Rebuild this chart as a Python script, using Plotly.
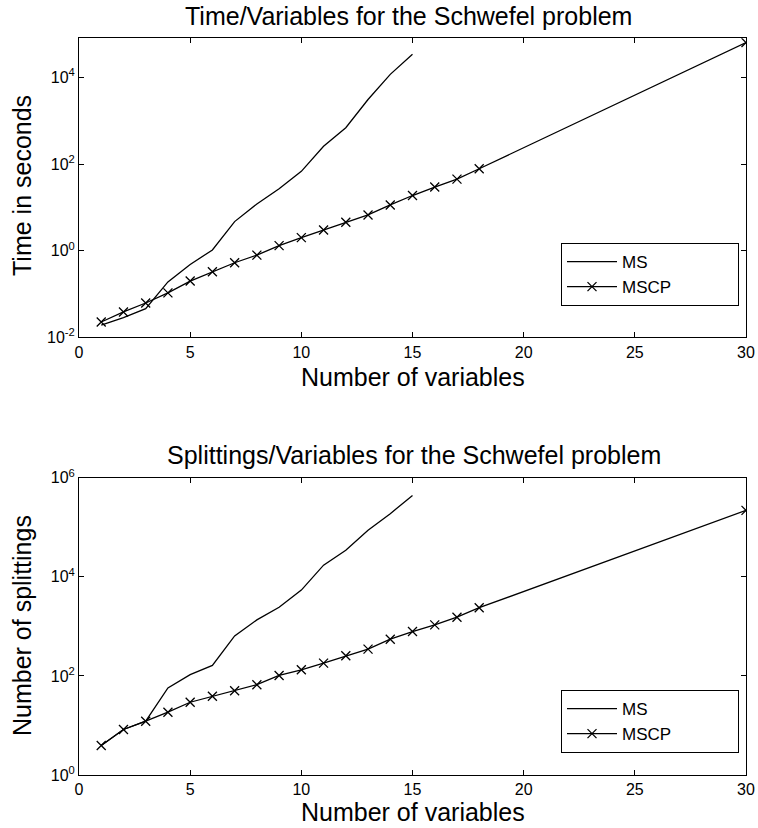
import plotly.graph_objects as go

variables_ms = [1, 2, 3, 4, 5, 6, 7, 8, 9, 10, 11, 12, 13, 14, 15]
variables_mscp = [1, 2, 3, 4, 5, 6, 7, 8, 9, 10, 11, 12, 13, 14, 15, 16, 17, 18, 30]

time_ms = [0.019, 0.0286, 0.046, 0.19, 0.48, 1.04, 4.7, 12, 27, 68, 257, 690, 3100, 11800, 34300]
time_mscp = [0.0226, 0.0385, 0.062, 0.106, 0.199, 0.326, 0.527, 0.79, 1.31, 2.0, 3.0, 4.55,
             6.7, 11.4, 18.8, 29.5, 45, 78, 64000]

split_ms = [3.95, 8.3, 12.2, 57, 106, 163, 643, 1350, 2430, 5400, 17200, 34400, 87000, 188000, 439000]
split_mscp = [3.95, 8.3, 12.2, 18.5, 29.4, 38.7, 50, 66.5, 102, 133, 181, 255, 347, 550, 785,
              1070, 1530, 2380, 219000]

x_ticks = [0, 5, 10, 15, 20, 25, 30]
top_y_tickvals = [1e-2, 1, 1e2, 1e4]
top_y_ticktext = ["10<sup>-2</sup>", "10<sup>0</sup>", "10<sup>2</sup>", "10<sup>4</sup>"]
bot_y_tickvals = [1, 1e2, 1e4, 1e6]
bot_y_ticktext = ["10<sup>0</sup>", "10<sup>2</sup>", "10<sup>4</sup>", "10<sup>6</sup>"]

legend_names = ["MS", "MSCP"]

FONT = "Liberation Sans, Arial, Helvetica, sans-serif"
W, H = 758, 828
PAD = "\u00a0" * 13

fig = go.Figure()

line_style = dict(color="black", width=1.3)
marker_style = dict(symbol="x-thin-open", size=9, color="black", line=dict(color="black", width=1.3))

fig.add_trace(go.Scatter(x=variables_ms, y=time_ms, mode="lines", name=legend_names[0] + PAD,
                         line=line_style, xaxis="x", yaxis="y", legend="legend"))
fig.add_trace(go.Scatter(x=variables_mscp, y=time_mscp, mode="lines+markers", name=legend_names[1] + PAD,
                         line=line_style, marker=marker_style, xaxis="x", yaxis="y", legend="legend"))
fig.add_trace(go.Scatter(x=variables_ms, y=split_ms, mode="lines", name=legend_names[0] + PAD,
                         line=line_style, xaxis="x2", yaxis="y2", legend="legend2"))
fig.add_trace(go.Scatter(x=variables_mscp, y=split_mscp, mode="lines+markers", name=legend_names[1] + PAD,
                         line=line_style, marker=marker_style, xaxis="x2", yaxis="y2", legend="legend2"))

x_dom = [79 / W, 746 / W]
top_dom = [(H - 337.3) / H, (H - 38.3) / H]
bot_dom = [(H - 775) / H, (H - 477.7) / H]

axis_common = dict(showline=True, linecolor="black", linewidth=1, mirror="ticks",
                   ticks="inside", ticklen=5, tickcolor="black", showgrid=False, zeroline=False,
                   automargin=False,
                   tickfont=dict(family=FONT, size=16, color="black"))

legend_common = dict(xanchor="right", yanchor="bottom",
                     bgcolor="white", bordercolor="black", borderwidth=1,
                     font=dict(family=FONT, size=17, color="black"), itemwidth=50,
                     tracegroupgap=0)

fig.update_layout(
    width=W, height=H,
    margin=dict(l=0, r=0, t=0, b=0, pad=0, autoexpand=False),
    paper_bgcolor="white", plot_bgcolor="white",
    font=dict(family=FONT, color="black"),
    xaxis=dict(domain=x_dom, anchor="y", range=[0, 30], tickvals=x_ticks, **axis_common),
    yaxis=dict(domain=top_dom, anchor="x", type="log", range=[-2, 4.905],
               tickvals=top_y_tickvals, ticktext=top_y_ticktext, **axis_common),
    xaxis2=dict(domain=x_dom, anchor="y2", range=[0, 30], tickvals=x_ticks, **axis_common),
    yaxis2=dict(domain=bot_dom, anchor="x2", type="log", range=[0, 6],
                tickvals=bot_y_tickvals, ticktext=bot_y_ticktext, **axis_common),
    legend=dict(x=739 / W, y=(H - 306) / H, **legend_common),
    legend2=dict(x=739 / W, y=(H - 753) / H, **legend_common),
    showlegend=True,
)

annots = [
    dict(text="Time/Variables for the Schwefel problem", x=408 / W, y=(H - 16) / H, size=25, angle=0),
    dict(text="Number of variables", x=413 / W, y=(H - 377) / H, size=25, angle=0),
    dict(text="Time in seconds", x=22 / W, y=(H - 186) / H, size=25, angle=-90),
    dict(text="Splittings/Variables for the Schwefel problem", x=414 / W, y=(H - 455) / H, size=25, angle=0),
    dict(text="Number of variables", x=413 / W, y=(H - 812) / H, size=25, angle=0),
    dict(text="Number of splittings", x=22 / W, y=(H - 626) / H, size=25, angle=-90),
]
for a in annots:
    fig.add_annotation(text=a["text"], x=a["x"], y=a["y"], xref="paper", yref="paper",
                       xanchor="center", yanchor="middle", showarrow=False, textangle=a["angle"],
                       font=dict(family=FONT, size=a["size"], color="black"))

fig.write_html("out.html", config={"displayModeBar": False},
               post_script="document.body.style.margin='0';document.body.style.overflow='hidden';")
